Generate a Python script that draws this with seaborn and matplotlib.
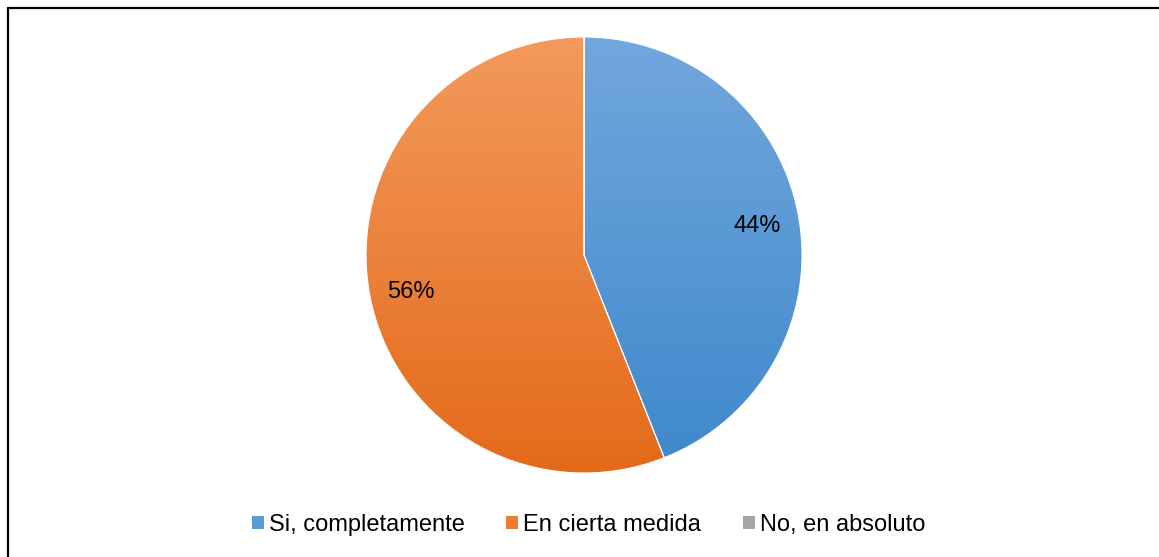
import numpy as np
import matplotlib
matplotlib.use('Agg')
import matplotlib.pyplot as plt
import matplotlib.transforms as mtransforms
from matplotlib.colors import LinearSegmentedColormap
from matplotlib.patches import Patch
from matplotlib.lines import Line2D
import seaborn as sns

# data
categories = ['Si, completamente', 'En cierta medida', 'No, en absoluto']
values = [44, 56, 0]
# gradient colours (top, bottom) per slice
top_colors = ['#72a7dd', '#f39a5c', '#b5b5b5']
bottom_colors = ['#3e88cc', '#e46a1a', '#959595']
legend_colors = ['#5a9bd5', '#ed7d31', '#a5a5a5']

sns.set_theme(style='white')
plt.rcParams['font.family'] = ['Liberation Sans', 'DejaVu Sans']
plt.rcParams['text.color'] = 'black'

fig = plt.figure(figsize=(11.59, 5.57), dpi=100)
ax = fig.add_axes([0.3158, 0.1508, 0.3762, 0.7828])


def pct_label(p):
    return '' if p < 0.5 else f'{p:.0f}%'


wedges, texts, autotexts = ax.pie(values, colors=legend_colors, startangle=90,
                                  counterclock=False, autopct=pct_label,
                                  pctdistance=0.81, radius=1,
                                  textprops={'fontsize': 17, 'color': 'black'})

# vertical gradient fill clipped to each wedge
grad = np.linspace(0, 1, 256).reshape(-1, 1)
for w, c1, c2 in zip(wedges, top_colors, bottom_colors):
    cmap = LinearSegmentedColormap.from_list('g', [c1, c2])
    im = ax.imshow(grad, cmap=cmap, extent=(-1, 1, -1, 1), origin='upper',
                   aspect='auto', zorder=1)
    im.set_clip_path(w)
    w.set_facecolor('none')
    w.set_edgecolor('white')
    w.set_linewidth(0.8)
    w.set_zorder(2)

# labels sit a little lower in the original
shift = mtransforms.ScaledTranslation(0, -4 / 100, fig.dpi_scale_trans)
for t in autotexts:
    t.set_zorder(5)
    t.set_transform(t.get_transform() + shift)

ax.set_xlim(-1, 1)
ax.set_ylim(-1, 1)
ax.set_aspect('equal')
ax.axis('off')

handles = [Patch(facecolor=c, edgecolor='none') for c in legend_colors]
fig.legend(handles, categories, loc='center', bbox_to_anchor=(0.5078, 0.0574),
           ncol=3, frameon=False, fontsize=17, handlelength=0.51,
           handleheight=0.42, handletextpad=0.21, columnspacing=1.75,
           labelcolor='black')

# chart border (top and left edges visible)
fig.add_artist(Line2D([7.5 / 1159, 1159 / 1159], [1 - 7.5 / 557, 1 - 7.5 / 557],
                      color='black', lw=1.6, transform=fig.transFigure))
fig.add_artist(Line2D([7.5 / 1159, 7.5 / 1159], [0, 1 - 7.5 / 557],
                      color='black', lw=1.6, transform=fig.transFigure))

fig.savefig('out.png', dpi=100, facecolor='white')
